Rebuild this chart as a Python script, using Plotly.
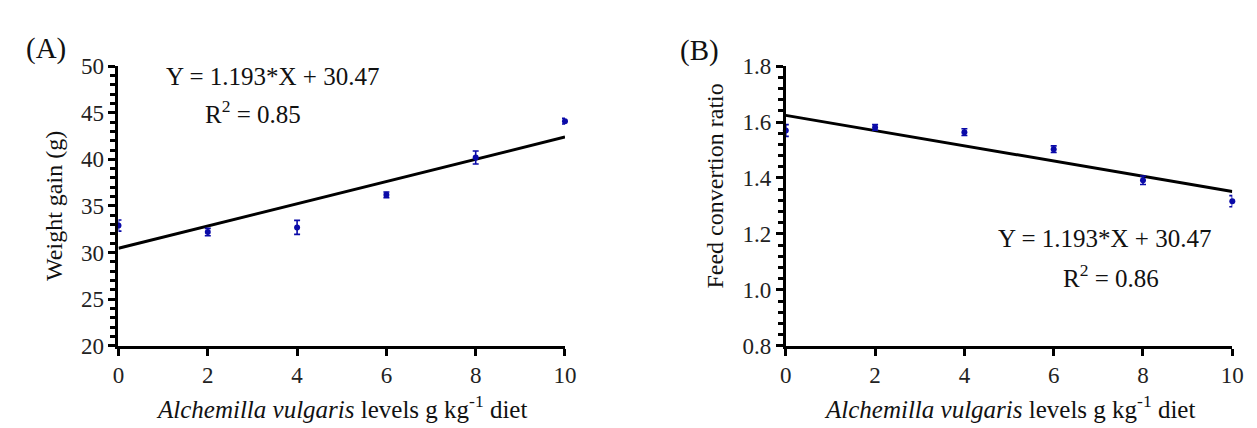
import plotly.graph_objects as go

levels = [0, 2, 4, 6, 8, 10]
weight_gain = [32.9, 32.2, 32.7, 36.2, 40.2, 44.1]
weight_gain_err = [0.6, 0.4, 0.75, 0.3, 0.7, 0.3]
fcr = [1.570, 1.581, 1.564, 1.503, 1.392, 1.317]
fcr_err = [0.021, 0.010, 0.012, 0.012, 0.015, 0.020]

fitA_slope, fitA_intercept = 1.193, 30.47
fitB_slope, fitB_intercept = -0.0272, 1.624
fit_x = [0, 10]

x_ticks = [0, 2, 4, 6, 8, 10]

W, H = 1257, 428
FONT = "Liberation Serif"
BLUE = "#0a0aa8"
TICKFONT = dict(family=FONT, size=23, color="#222")

def px_x(p):
    return p / W

def px_y(p):
    return 1 - p / H

fig = go.Figure()

fig.add_trace(go.Scatter(
    x=fit_x, y=[fitA_slope * v + fitA_intercept for v in fit_x],
    mode="lines", line=dict(color="black", width=3),
    xaxis="x", yaxis="y", showlegend=False, cliponaxis=False))
fig.add_trace(go.Scatter(
    x=levels, y=weight_gain,
    error_y=dict(type="data", array=weight_gain_err, color=BLUE, thickness=1.6, width=3),
    mode="markers", marker=dict(color=BLUE, size=6),
    xaxis="x", yaxis="y", showlegend=False, cliponaxis=False))

fig.add_trace(go.Scatter(
    x=fit_x, y=[fitB_slope * v + fitB_intercept for v in fit_x],
    mode="lines", line=dict(color="black", width=3),
    xaxis="x2", yaxis="y2", showlegend=False, cliponaxis=False))
fig.add_trace(go.Scatter(
    x=levels, y=fcr,
    error_y=dict(type="data", array=fcr_err, color=BLUE, thickness=1.6, width=3),
    mode="markers", marker=dict(color=BLUE, size=6),
    xaxis="x2", yaxis="y2", showlegend=False, cliponaxis=False))

ydom = [px_y(346), px_y(49)]

axis_common = dict(
    showgrid=False, zeroline=False, showline=True, linecolor="black", linewidth=3,
    ticks="outside", ticklen=7, tickwidth=2.5, tickcolor="black",
)

fig.update_layout(
    width=W, height=H,
    font=dict(family=FONT, size=23, color="#222"),
    margin=dict(l=0, r=0, t=0, b=0),
    paper_bgcolor="white", plot_bgcolor="white",
    xaxis=dict(domain=[px_x(106), px_x(559)], range=[0, 10], tickvals=x_ticks,
               anchor="y", tickfont=TICKFONT, **axis_common),
    yaxis=dict(domain=ydom, range=[20, 50], dtick=5, anchor="x", tickfont=TICKFONT,
               minor=dict(dtick=1, ticks="outside", ticklen=5, tickwidth=2.5, tickcolor="black"),
               **axis_common),
    xaxis2=dict(domain=[px_x(783), px_x(1236)], range=[0, 10], tickvals=x_ticks,
                anchor="y2", tickfont=TICKFONT, **axis_common),
    yaxis2=dict(domain=ydom, range=[0.8, 1.8], dtick=0.2, tickformat=".1f", anchor="x2",
                tickfont=TICKFONT,
                minor=dict(dtick=0.04, ticks="outside", ticklen=5, tickwidth=2.5, tickcolor="black"),
                **axis_common),
)

def ann(text, x, y, size, angle=0):
    fig.add_annotation(text=text, xref="paper", yref="paper", x=px_x(x), y=px_y(y),
                       xanchor="center", yanchor="middle", showarrow=False, textangle=angle,
                       font=dict(family=FONT, size=size, color="#111"))

ann("(A)", 32, 30, 29)
ann("(B)", 695, 32, 29)
ann("Weight gain (g)", 41, 197, 24, -90)
ann("Feed convertion ratio", 711, 176, 24, -90)
xt = "<i>Alchemilla vulgaris</i> levels g kg<sup>-1</sup> diet"
ann(xt, 332, 411, 25)
ann(xt, 1010, 411, 25)
ann("Y = 1.193*X + 30.47", 262, 60, 25)
ann("R<sup>2</sup> = 0.85", 242, 98, 25)
ann("Y = 1.193*X + 30.47", 1106, 232, 25)
ann("R<sup>2</sup> = 0.86", 1113, 272, 25)

fig.write_html("out.html")
